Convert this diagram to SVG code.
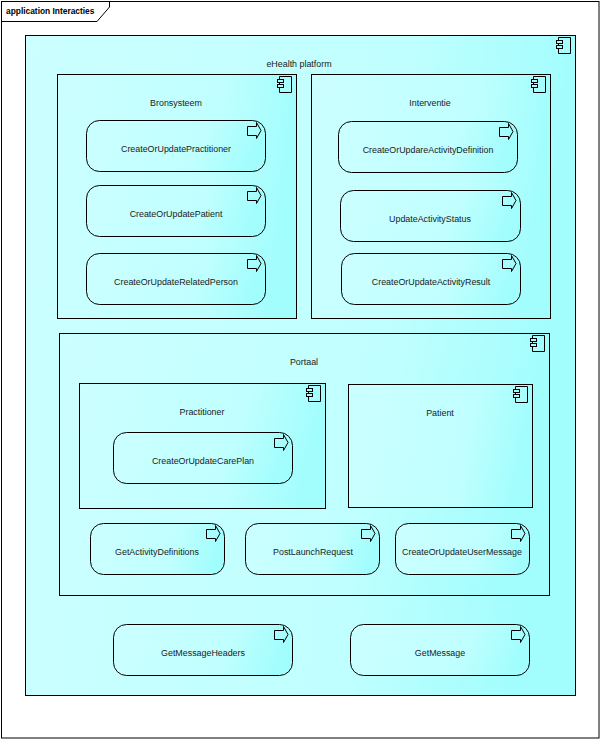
<svg xmlns="http://www.w3.org/2000/svg" width="600" height="739" viewBox="0 0 600 739">
<style>
text{font-family:"Liberation Sans",Arial,sans-serif;font-size:8.9px;fill:#1a1a1a;text-anchor:middle}
.b{fill:url(#g);stroke:#000;stroke-width:1}
.i{fill:none;stroke:#000;stroke-width:1}
.t{text-anchor:start;font-weight:700;font-size:8.4px;fill:#000}
</style>
<defs>
<linearGradient id="g" x1="0" y1="0" x2="1" y2="0.12"><stop offset="0" stop-color="#ccffff"/><stop offset="0.68" stop-color="#c0ffff"/><stop offset="1" stop-color="#a2fdfd"/></linearGradient>
<g id="comp"><path class="i" d="M-12.500 3.500V0.500H-0.500V16.500H-12.500V11.500M-12.500 6.500V8.500"/><rect class="i" x="-14.500" y="3.500" width="6" height="3"/><rect class="i" x="-14.500" y="8.500" width="6" height="3"/></g>
<path id="arr" class="i" d="M0.500 4.500H9.500V0.500L14 8.500L9.500 16.500V13.500H0.500Z"/>
</defs>
<g id="frame"><rect x="1.500" y="1.500" width="597.500" height="736.500" fill="#fff" stroke="#000"/><path d="M1.500 21.500H97L109.500 7V1.500" fill="none" stroke="#000"/><text class="t" x="6" y="14">application Interacties</text></g>
<g id="eHealth"><rect class="b" x="25.500" y="35.500" width="550" height="660"/><use href="#comp" x="571" y="37"/><text x="299" y="67">eHealth platform</text></g>
<g id="Bronsysteem"><rect class="b" x="57.500" y="74.500" width="239" height="244"/><use href="#comp" x="292" y="76"/><text x="176" y="106">Bronsysteem</text></g>
<g id="Interventie"><rect class="b" x="311.500" y="74.500" width="239" height="244"/><use href="#comp" x="546" y="76"/><text x="430" y="106">Interventie</text></g>
<g id="Portaal"><rect class="b" x="59.500" y="333.500" width="490" height="262"/><use href="#comp" x="545" y="335"/><text x="304" y="365">Portaal</text></g>
<g id="PractitionerC"><rect class="b" x="79.500" y="383.500" width="246" height="125"/><use href="#comp" x="321" y="385"/><text x="202" y="415">Practitioner</text></g>
<g id="PatientC"><rect class="b" x="348.500" y="384.500" width="184" height="123"/><use href="#comp" x="528" y="386"/><text x="440" y="416">Patient</text></g>
<g id="n1"><rect class="b" x="86.500" y="120.500" width="179" height="51" rx="13"/><use href="#arr" x="247" y="122"/><text x="176" y="152">CreateOrUpdatePractitioner</text></g>
<g id="n2"><rect class="b" x="86.500" y="185.500" width="179" height="51" rx="13"/><use href="#arr" x="247" y="187"/><text x="176" y="217">CreateOrUpdatePatient</text></g>
<g id="n3"><rect class="b" x="86.500" y="253.500" width="179" height="51" rx="13"/><use href="#arr" x="247" y="255"/><text x="176" y="285">CreateOrUpdateRelatedPerson</text></g>
<g id="n4"><rect class="b" x="338.500" y="121.500" width="179" height="51" rx="13"/><use href="#arr" x="499" y="123"/><text x="428" y="153">CreateOrUpdareActivityDefinition</text></g>
<g id="n5"><rect class="b" x="340.500" y="190.500" width="180" height="51" rx="13"/><use href="#arr" x="502" y="192"/><text x="430" y="222">UpdateActivityStatus</text></g>
<g id="n6"><rect class="b" x="341.500" y="253.500" width="179" height="51" rx="13"/><use href="#arr" x="502" y="255"/><text x="431" y="285">CreateOrUpdateActivityResult</text></g>
<g id="n7"><rect class="b" x="113.500" y="432.500" width="179" height="51" rx="13"/><use href="#arr" x="274" y="434"/><text x="203" y="464">CreateOrUpdateCarePlan</text></g>
<g id="n8"><rect class="b" x="90.500" y="523.500" width="134" height="51" rx="13"/><use href="#arr" x="206" y="525"/><text x="157" y="555">GetActivityDefinitions</text></g>
<g id="n9"><rect class="b" x="245.500" y="523.500" width="134" height="51" rx="13"/><use href="#arr" x="361" y="525"/><text x="313" y="555">PostLaunchRequest</text></g>
<g id="n10"><rect class="b" x="395.500" y="523.500" width="134" height="51" rx="13"/><use href="#arr" x="511" y="525"/><text x="462" y="555">CreateOrUpdateUserMessage</text></g>
<g id="n11"><rect class="b" x="113.500" y="624.500" width="179" height="51" rx="13"/><use href="#arr" x="274" y="626"/><text x="203" y="656">GetMessageHeaders</text></g>
<g id="n12"><rect class="b" x="350.500" y="624.500" width="179" height="51" rx="13"/><use href="#arr" x="511" y="626"/><text x="440" y="656">GetMessage</text></g>
<g id="connectors"/>
</svg>
